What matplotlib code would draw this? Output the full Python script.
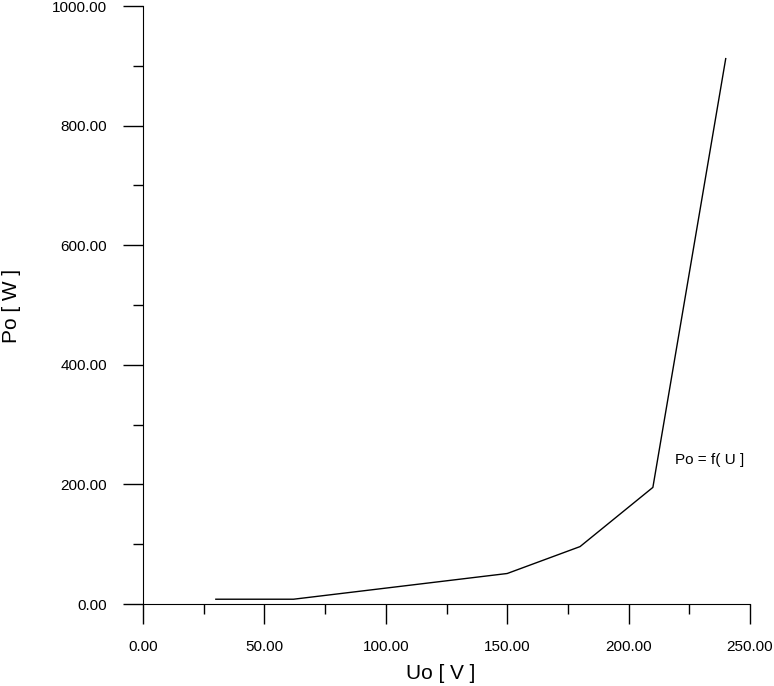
import matplotlib
matplotlib.use("Agg")
import matplotlib.pyplot as plt
from matplotlib.ticker import MultipleLocator, FixedLocator, FixedFormatter

# measured points of Po = f(U)
u_volts = [30, 62, 150, 180, 210, 240]
p_watts = [8, 8, 51, 96, 195, 912]

x_ticks = [0, 50, 100, 150, 200, 250]
x_labels = ["0.00", "50.00", "100.00", "150.00", "200.00", "250.00"]
y_ticks = [0, 200, 400, 600, 800, 1000]
y_labels = ["0.00", "200.00", "400.00", "600.00", "800.00", "1000.00"]

plt.rcParams['font.family'] = ['Liberation Sans', 'DejaVu Sans']

fig = plt.figure(figsize=(7.74, 6.86), dpi=100)
ax = fig.add_axes([143/774, 82/686, 607/774, 598/686])

ax.plot(u_volts, p_watts, color='black', lw=1)
ax.text(219, 241, "Po = f( U ]", fontsize=11, ha='left', va='center')

ax.set_xlim(0, 250)
ax.set_ylim(0, 1000)
for s in ['top', 'right']:
    ax.spines[s].set_visible(False)

ax.xaxis.set_major_locator(FixedLocator(x_ticks))
ax.xaxis.set_major_formatter(FixedFormatter(x_labels))
ax.xaxis.set_minor_locator(MultipleLocator(25))
ax.yaxis.set_major_locator(FixedLocator(y_ticks))
ax.yaxis.set_major_formatter(FixedFormatter(y_labels))
ax.yaxis.set_minor_locator(MultipleLocator(100))

ax.tick_params(which='major', direction='out', length=14.4, width=1, labelsize=11, pad=11.5)
ax.tick_params(which='minor', direction='out', length=7.2, width=1)

ax.set_xlabel("Uo [ V ]", fontsize=15, va='center')
ax.set_ylabel("Po [ W ]", fontsize=15, va='center')
ax.xaxis.set_label_coords(0.49, -0.117)
ax.yaxis.set_label_coords(-0.216, 0.498)

fig.savefig("out.png", dpi=100)
